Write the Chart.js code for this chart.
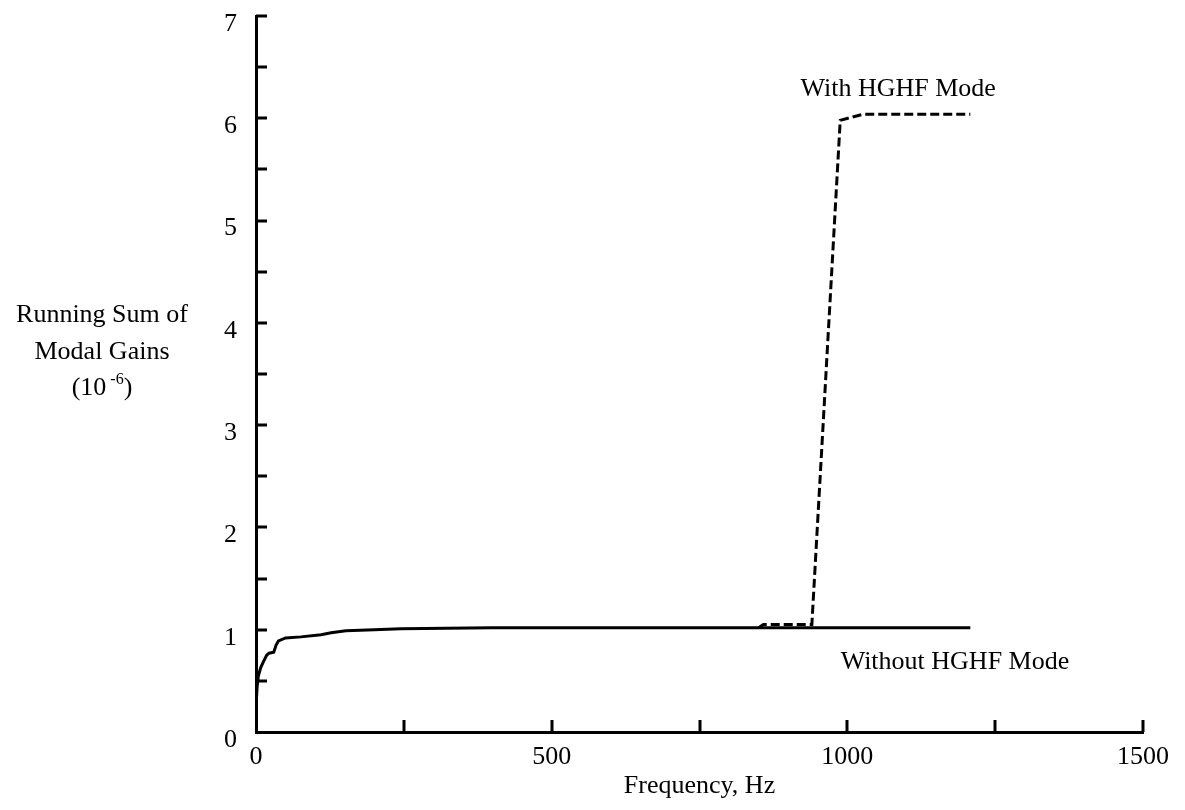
<!DOCTYPE html>
<html><head><meta charset="utf-8">
<script src="https://cdn.jsdelivr.net/npm/chart.js@4.4.0/dist/chart.umd.min.js"></script>
<style>html,body{margin:0;padding:0;background:#fff}#wrap{width:1185px;height:810px;position:relative}</style>
</head><body><div id="wrap"><canvas id="c" width="1185" height="810"></canvas></div>
<script>
// ---- data ----
const freqWithout = [0, 2, 4, 8, 12, 18, 22, 30, 34, 38, 50, 76, 110, 127, 152, 200, 245, 400, 600, 800, 1000, 1208];
const gainWithout = [0.25, 0.45, 0.55, 0.63, 0.68, 0.75, 0.77, 0.78, 0.85, 0.89, 0.92, 0.93, 0.95, 0.97, 0.99, 1.0, 1.01, 1.02, 1.02, 1.02, 1.02, 1.02];
const freqWith = [850, 858, 940, 988, 1027, 1208];
const gainWith = [1.02, 1.05, 1.05, 5.98, 6.04, 6.04];
const xTickLabels = ['0', '', '500', '', '1000', '', '1500'];
const yTickLabels = ['0', '', '1', '', '2', '', '3', '', '4', '', '5', '', '6', '', '7'];
const seriesNames = ['Without HGHF Mode', 'With HGHF Mode'];
const labelAnchorsX = [1182, 1086];
const labelAnchorsY = [0.68, 6.28];
const yTitleLines = ['Running Sum of', 'Modal Gains'];
const xTitle = 'Frequency, Hz';

const FONT = '"Liberation Serif", "Times New Roman", serif';
Chart.defaults.font.family = FONT;
Chart.defaults.font.size = 26;
Chart.defaults.color = '#000';

const toXY = (xs, ys) => xs.map((x, i) => ({x: x, y: ys[i]}));

const extras = {
  id: 'extras',
  afterDatasetsDraw(chart) {
    const {ctx, chartArea: a, scales: {x, y}} = chart;
    ctx.save();
    // inward tick marks
    ctx.strokeStyle = '#000';
    ctx.lineWidth = 3;
    ctx.beginPath();
    x.ticks.forEach(t => {
      if (t.value === 0) return;
      const px = Math.round(x.getPixelForValue(t.value));
      ctx.moveTo(px, a.bottom); ctx.lineTo(px, a.bottom - 12);
    });
    y.ticks.forEach(t => {
      if (t.value === 0) return;
      const py = Math.round(y.getPixelForValue(t.value));
      ctx.moveTo(a.left, py); ctx.lineTo(a.left + 11, py);
    });
    ctx.stroke();
    // series labels
    ctx.fillStyle = '#000';
    ctx.font = '26px ' + FONT;
    ctx.textAlign = 'center';
    ctx.textBaseline = 'middle';
    seriesNames.forEach((n, i) => {
      ctx.fillText(n, x.getPixelForValue(labelAnchorsX[i]), y.getPixelForValue(labelAnchorsY[i]));
    });
    // y-axis title (horizontal, three lines)
    const cx = 102;
    ctx.fillText(yTitleLines[0], cx, 315);
    ctx.fillText(yTitleLines[1], cx, 352);
    const big = '26px ' + FONT, small = '16px ' + FONT;
    ctx.font = big; const w1 = ctx.measureText('(10').width; const w3 = ctx.measureText(')').width;
    ctx.font = small; const w2 = ctx.measureText('-6').width;
    const gap = 4;
    let sx = cx - (w1 + gap + w2 + w3) / 2;
    ctx.textAlign = 'left';
    ctx.font = big; ctx.fillText('(10', sx, 388);
    ctx.font = small; ctx.fillText('-6', sx + w1 + gap, 380);
    ctx.font = big; ctx.fillText(')', sx + w1 + gap + w2, 388);
    ctx.restore();
  }
};

function noPad(s) { s.paddingTop = 0; s.paddingBottom = 0; s.paddingLeft = 0; s.paddingRight = 0; }

new Chart(document.getElementById('c'), {
  type: 'scatter',
  data: {
    datasets: [
      {label: seriesNames[0], data: toXY(freqWithout, gainWithout), showLine: true, borderColor: '#000', borderWidth: 3, pointRadius: 0, tension: 0},
      {label: seriesNames[1], data: toXY(freqWith, gainWith), showLine: true, borderColor: '#000', borderWidth: 3, borderDash: [9, 4], pointRadius: 0, tension: 0}
    ]
  },
  options: {
    responsive: false,
    animation: false,
    devicePixelRatio: 1,
    layout: {padding: {left: 0, right: 42, top: 16, bottom: 0}},
    plugins: {legend: {display: false}, tooltip: {enabled: false}},
    scales: {
      x: {
        type: 'linear', min: 0, max: 1500,
        afterFit(s) { s.height = 78; noPad(s); },
        grid: {display: false, drawTicks: false},
        border: {display: true, color: '#000', width: 3},
        ticks: {stepSize: 250, autoSkip: false, maxRotation: 0, padding: 10,
                callback: (v, i) => xTickLabels[i]},
        title: {display: true, text: xTitle, font: {size: 26}, padding: {top: 0, bottom: 8}}
      },
      y: {
        type: 'linear', min: 0, max: 7,
        afterFit(s) { s.width = 256; noPad(s); },
        grid: {display: false, drawTicks: false},
        border: {display: true, color: '#000', width: 3},
        ticks: {stepSize: 0.5, autoSkip: false, padding: 19, labelOffset: 8,
                callback: (v, i) => yTickLabels[i]}
      }
    }
  },
  plugins: [extras]
});
</script></body></html>
